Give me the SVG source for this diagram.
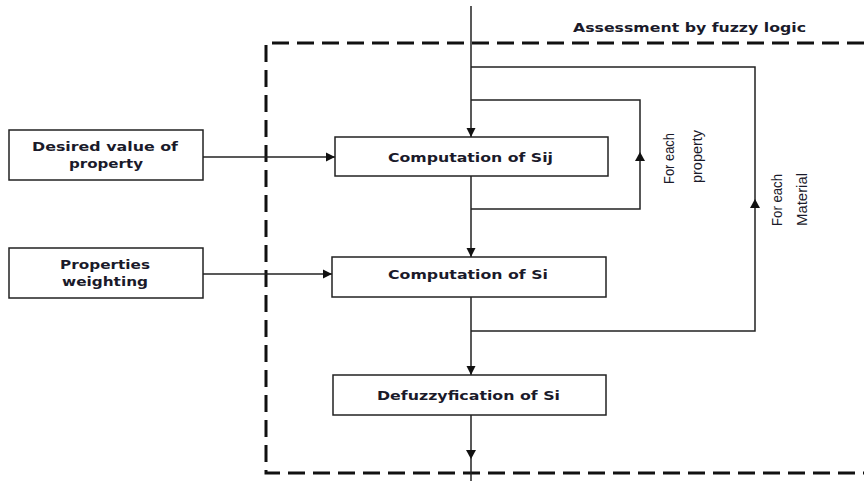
<svg xmlns="http://www.w3.org/2000/svg" width="864" height="481" viewBox="0 0 864 481">
<style>
.box{fill:#fff;stroke:#222;stroke-width:1.5}
.ln{fill:none;stroke:#222;stroke-width:1.5}
.dash{fill:none;stroke:#111;stroke-width:3;stroke-dasharray:17 8}
.lbl{font-family:"DejaVu Sans",Verdana,sans-serif;font-weight:bold;font-size:13px;fill:#1a1a2a}
.rot{font-family:"Liberation Sans",Arial,sans-serif;font-size:14px;fill:#1a1a2a}
.ah{fill:#111}
</style>
<defs>
<marker id="arr" viewBox="0 0 10 10" refX="10" refY="5" markerWidth="9" markerHeight="10" markerUnits="userSpaceOnUse" orient="auto">
<path d="M0,0 L10,5 L0,10 Z" class="ah"/>
</marker>
</defs>
<rect width="864" height="481" fill="#fff"/>
<g id="frame">
<path class="dash" d="M864,43 H266 V473 H864"/>
<text class="lbl" x="573" y="32" textLength="233" lengthAdjust="spacingAndGlyphs">Assessment by fuzzy logic</text>
</g>
<g id="connectors">
<path class="ln" d="M471,6 V137" marker-end="url(#arr)"/>
<path class="ln" d="M471,67 H755 V331 H471"/>
<path class="ah" d="M750,208 L755,199 L760,208 Z"/>
<path class="ln" d="M471,100 H640 V209 H471"/>
<path class="ah" d="M635,161 L640,152 L645,161 Z"/>
<path class="ln" d="M471,176 V257" marker-end="url(#arr)"/>
<path class="ln" d="M471,297 V375" marker-end="url(#arr)"/>
<path class="ln" d="M471,415 V481"/>
<path class="ah" d="M466,450 L471,459 L476,450 Z"/>
<path class="ln" d="M203,157 H335" marker-end="url(#arr)"/>
<path class="ln" d="M203,274 H332" marker-end="url(#arr)"/>
<text class="rot" transform="translate(674,184) rotate(-90)" textLength="51" lengthAdjust="spacingAndGlyphs">For each</text>
<text class="rot" transform="translate(702,183) rotate(-90)" textLength="53" lengthAdjust="spacingAndGlyphs">property</text>
<text class="rot" transform="translate(782,226) rotate(-90)" textLength="52" lengthAdjust="spacingAndGlyphs">For each</text>
<text class="rot" transform="translate(807,226) rotate(-90)" textLength="53" lengthAdjust="spacingAndGlyphs">Material</text>
</g>
<g id="desired">
<rect class="box" x="9" y="130" width="194" height="50"/>
<text class="lbl" x="105" y="151" text-anchor="middle" textLength="146" lengthAdjust="spacingAndGlyphs">Desired value of</text>
<text class="lbl" x="106" y="168" text-anchor="middle" textLength="74" lengthAdjust="spacingAndGlyphs">property</text>
</g>
<g id="weighting">
<rect class="box" x="9" y="248" width="194" height="50"/>
<text class="lbl" x="105" y="269" text-anchor="middle" textLength="90" lengthAdjust="spacingAndGlyphs">Properties</text>
<text class="lbl" x="105" y="286" text-anchor="middle" textLength="86" lengthAdjust="spacingAndGlyphs">weighting</text>
</g>
<g id="sij">
<rect class="box" x="335" y="137" width="273" height="39"/>
<text class="lbl" x="470.5" y="162" text-anchor="middle" textLength="165" lengthAdjust="spacingAndGlyphs">Computation of Sij</text>
</g>
<g id="si">
<rect class="box" x="332" y="257" width="274" height="40"/>
<text class="lbl" x="468" y="279" text-anchor="middle" textLength="160" lengthAdjust="spacingAndGlyphs">Computation of Si</text>
</g>
<g id="defuzz">
<rect class="box" x="333" y="375" width="273" height="40"/>
<text class="lbl" x="468.5" y="400" text-anchor="middle" textLength="183" lengthAdjust="spacingAndGlyphs">Defuzzyfication of Si</text>
</g>
</svg>
